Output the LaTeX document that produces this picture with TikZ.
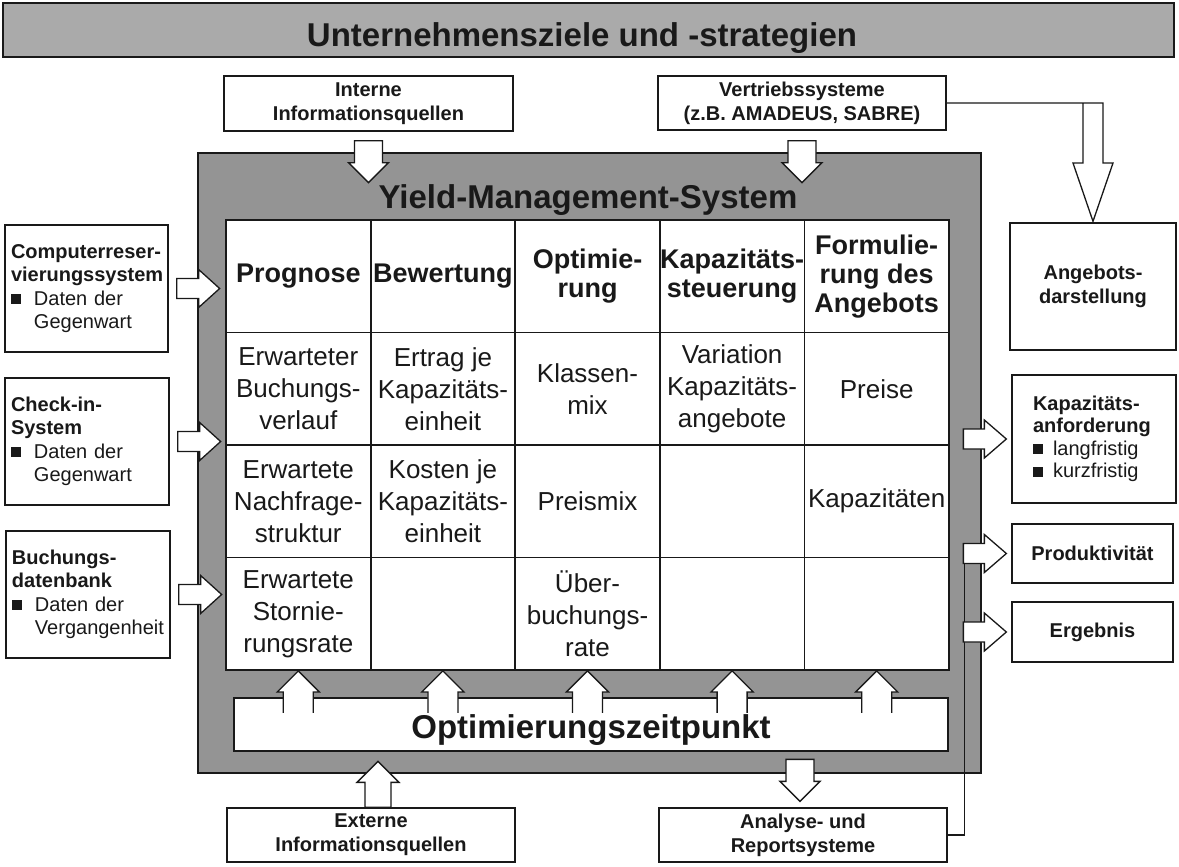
\documentclass[tikz,border=0pt]{standalone}
\usepackage{fontspec}
\setmainfont{Liberation Sans}
\usetikzlibrary{calc}
\definecolor{bannergray}{RGB}{170,170,170}
\definecolor{framegray}{RGB}{148,148,148}
\definecolor{ink}{RGB}{25,25,25}
\newcommand\sqbul[1]{\makebox[#1][l]{\rule[1pt]{10pt}{10pt}}}
\newcommand\myfs[2]{\fontsize{#1}{#2}\selectfont}
\begin{document}
\begin{tikzpicture}[x=1pt,y=-1pt,
  every node/.style={text=ink},
  box/.style={draw=ink, line width=1.3pt, fill=white, inner sep=0pt, align=center, font=\bfseries\myfs{20}{24}},
  lbox/.style={draw=ink, line width=1.3pt, fill=white, inner xsep=6pt, inner ysep=0pt, align=left, font=\myfs{20}{23.4}, text width=#1},
  cell/.style={draw=ink, line width=1.8pt, fill=white, minimum width=144.6pt, minimum height=112.5pt, inner sep=0pt, align=center, font=\myfs{26}{32}},
  headcell/.style={cell, font=\bfseries\myfs{27}{29}},
  title/.style={anchor=base, font=\bfseries\myfs{33}{38}},
  hollow/.style={draw=ink, fill=white, line width=1.3pt, line join=miter},
  fbline/.style={draw=ink, line width=1.3pt},
  pics/barrow/.style n args={4}{code={%
    \draw[hollow] (0,-#2) -- ({#1-#4},-#2) -- ({#1-#4},-#3) -- (#1,0) -- ({#1-#4},#3) -- ({#1-#4},#2) -- (0,#2) -- cycle;}},
  pics/oarrow/.style n args={4}{code={%
    \fill[white] (0,-#2) -- ({#1-#4},-#2) -- ({#1-#4},-#3) -- (#1,0) -- ({#1-#4},#3) -- ({#1-#4},#2) -- (0,#2) -- cycle;
    \draw[hollow] (0,-#2) -- ({#1-#4},-#2) -- ({#1-#4},-#3) -- (#1,0) -- ({#1-#4},#3) -- ({#1-#4},#2) -- (0,#2);}},
]
\fill[white] (0,0) rectangle (1179,867);
\useasboundingbox (0,0) rectangle (1179,867);

% banner
\node[draw=ink, line width=1.5pt, fill=bannergray, minimum width=1171pt, minimum height=54pt, inner sep=0pt] (ban) at (588.5,30) {};
\node[title] (bant) at (582,47) {Unternehmensziele und -strategien};

% top boxes
\node[box, minimum width=289pt, minimum height=55pt] (int) at (368.5,103.5) {Interne\\Informationsquellen};
\node[box, minimum width=288pt, minimum height=54pt] (vert) at (802,103) {Vertriebssysteme\\(z.B. AMADEUS, SABRE)};

% frame
\node[draw=ink, line width=1.6pt, fill=framegray, minimum width=783pt, minimum height=620pt, inner sep=0pt] (frame) at (589.5,463) {};
\node[title] (yms) at (588,208) {Yield-Management-System};

% table
\node[headcell] (c11) at (298.3,276.25) {Prognose};
\node[headcell] (c12) at (442.9,276.25) {Bewertung};
\node[headcell] (c13) at (587.5,276.25) {Optimie-\\rung};
\node[headcell] (c14) at (732.1,276.25) {Kapazitäts-\\steuerung};
\node[headcell] (c15) at (876.7,276.25) {Formulie-\\rung des\\Angebots};
\node[cell] (c21) at (298.3,388.75) {Erwarteter\\Buchungs-\\verlauf};
\node[cell] (c22) at (442.9,388.75) {Ertrag je\\Kapazitäts-\\einheit};
\node[cell] (c23) at (587.5,388.75) {Klassen-\\mix};
\node[cell] (c24) at (732.1,388.75) {Variation\\Kapazitäts-\\angebote};
\node[cell] (c25) at (876.7,388.75) {Preise};
\node[cell] (c31) at (298.3,501.25) {Erwartete\\Nachfrage-\\struktur};
\node[cell] (c32) at (442.9,501.25) {Kosten je\\Kapazitäts-\\einheit};
\node[cell] (c33) at (587.5,501.25) {Preismix};
\node[cell] (c34) at (732.1,501.25) {};
\node[cell] (c35) at (876.7,501.25) {Kapazitäten};
\node[cell] (c41) at (298.3,613.75) {Erwartete\\Stornie-\\rungsrate};
\node[cell] (c42) at (442.9,613.75) {};
\node[cell] (c43) at (587.5,613.75) {Über-\\buchungs-\\rate};
\node[cell] (c44) at (732.1,613.75) {};
\node[cell] (c45) at (876.7,613.75) {};

% optimierungszeitpunkt
\node[box, minimum width=714pt, minimum height=53pt] (opt) at (591,724.5) {};
\node[title] (optt) at ($(opt.center)+(0,14)$) {Optimierungszeitpunkt};

% bottom boxes
\node[box, minimum width=288pt, minimum height=54pt] (ext) at (371,835) {Externe\\Informationsquellen};
\node[box, minimum width=288pt, minimum height=54pt] (ana) at (803,835) {Analyse- und\\Reportsysteme};

% left boxes
\node[lbox=151pt, minimum height=127pt] (crs) at (86.5,288.5) {\textbf{Computerreser-}\\\textbf{vierungssystem}\\\sqbul{23pt}Daten der\\\hspace*{23pt}Gegenwart};
\node[lbox=152pt, minimum height=127pt] (chk) at (87,441.5) {\textbf{Check-in-}\\\textbf{System}\\\sqbul{23pt}Daten der\\\hspace*{23pt}Gegenwart};
\node[lbox=152pt, minimum height=127pt] (buch) at (88,594.5) {\textbf{Buchungs-}\\\textbf{datenbank}\\\sqbul{23pt}Daten der\\\hspace*{23pt}\mbox{Vergangenheit}};

% right boxes
\node[box, minimum width=166pt, minimum height=127pt] (ang) at (1093,286.5) {Angebots-\\darstellung};
\node[lbox=122pt, inner xsep=21pt, minimum height=128pt, font=\myfs{20}{22.5}] (kap) at (1094,439) {\textbf{Kapazitäts-}\\\textbf{anforderung}\\\sqbul{20pt}langfristig\\\sqbul{20pt}kurzfristig};
\node[box, minimum width=161pt, minimum height=59pt] (prod) at (1092.5,553.5) {Produktivität};
\node[box, minimum width=161pt, minimum height=60pt] (erg) at (1092.5,632) {Ergebnis};

% feedback line
\draw[fbline] (ana.east) -| ($(prod.west)+(-47,10)$);

% Vertriebssysteme -> Angebotsdarstellung
\coordinate (vt) at (vert.east -| ang.north);
\draw[hollow] (vert.east) -- ($(vt)+(10,0)$) -- ($(vt)+(10,60)$) -- ($(vt)+(20,60)$) -- ($(ang.north)+(0,-1)$) -- ($(vt)+(-20,60)$) -- ($(vt)+(-10,60)$) -- ($(vt)+(-10,0)$);

% block arrows
\pic[rotate=-90] at ($(int.south)+(0,9)$) {barrow={42}{14}{20}{20}};
\pic[rotate=-90] at ($(vert.south)+(0,10)$) {barrow={42}{14}{20}{20}};
\pic at ($(crs.east)+(8,0)$) {barrow={43}{10}{19}{21}};
\pic at ($(chk.east)+(8,0)$) {barrow={43}{10}{19}{21}};
\pic at ($(buch.east)+(8,0)$) {barrow={43}{10}{19}{21}};
\pic at ($(kap.west)+(-48,0)$) {barrow={43}{10}{19}{22}};
\pic at ($(prod.west)+(-48,0)$) {barrow={43}{10}{19}{22}};
\pic at ($(erg.west)+(-48,0)$) {barrow={43}{10}{19}{22}};
\foreach \c in {1,...,5} {
  \pic[rotate=90] at ($(c4\c.south)+(0,42)$) {oarrow={42}{15}{21}{21}};
}
\pic[rotate=90] at ($(ext.north)+(7,0)$) {barrow={46}{13}{21}{21}};
\pic[rotate=-90] at ($(ana.north)+(-3,-48)$) {barrow={42}{14}{20}{20}};
\end{tikzpicture}
\end{document}
